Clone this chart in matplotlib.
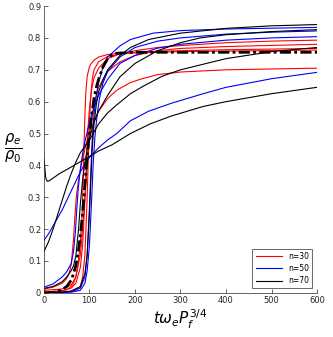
import matplotlib
matplotlib.use("Agg")
import matplotlib.pyplot as plt

# n=30 curves (red)
r1_t = [0, 20, 40, 50, 60, 65, 70, 75, 80, 84, 86, 88, 90, 92, 95, 100, 105, 110, 120, 140, 170, 200, 300, 400, 600]
r1_y = [0.003, 0.004, 0.007, 0.01, 0.02, 0.03, 0.05, 0.09, 0.16, 0.25, 0.35, 0.46, 0.56, 0.63, 0.68, 0.71, 0.722, 0.73, 0.74, 0.748, 0.752, 0.755, 0.76, 0.763, 0.767]
r2_t = [0, 40, 60, 70, 80, 85, 90, 93, 96, 100, 105, 110, 120, 140, 167, 200, 250, 300, 400, 500, 600]
r2_y = [0.003, 0.006, 0.015, 0.03, 0.08, 0.15, 0.29, 0.40, 0.50, 0.58, 0.64, 0.675, 0.705, 0.735, 0.75, 0.76, 0.77, 0.776, 0.785, 0.79, 0.793]
r3_t = [0, 40, 60, 70, 80, 85, 90, 95, 100, 105, 110, 120, 140, 167, 200, 250, 300, 400, 600]
r3_y = [0.008, 0.012, 0.025, 0.05, 0.12, 0.2, 0.30, 0.40, 0.48, 0.54, 0.59, 0.645, 0.695, 0.725, 0.745, 0.76, 0.767, 0.773, 0.78]
r4_t = [0, 20, 40, 50, 55, 60, 65, 68, 71, 75, 80, 86, 95, 101, 120, 140, 160, 190, 211, 250, 300, 400, 600]
r4_y = [0.012, 0.018, 0.03, 0.045, 0.06, 0.09, 0.17, 0.24, 0.30, 0.345, 0.385, 0.43, 0.48, 0.51, 0.57, 0.61, 0.636, 0.66, 0.67, 0.685, 0.693, 0.70, 0.705]
r5_t = [0, 50, 70, 80, 85, 90, 95, 98, 100, 103, 106, 110, 120, 140, 170, 200, 300, 600]
r5_y = [0.0, 0.002, 0.008, 0.02, 0.05, 0.12, 0.30, 0.45, 0.54, 0.62, 0.67, 0.70, 0.725, 0.742, 0.75, 0.753, 0.757, 0.762]

# n=50 curves (blue)
b1_t = [0, 60, 80, 90, 95, 100, 103, 106, 110, 115, 120, 130, 140, 167, 190, 240, 300, 400, 600]
b1_y = [0.0, 0.004, 0.015, 0.05, 0.12, 0.27, 0.38, 0.48, 0.56, 0.62, 0.66, 0.71, 0.74, 0.775, 0.795, 0.815, 0.823, 0.828, 0.833]
b2_t = [0, 60, 80, 90, 95, 100, 105, 108, 112, 117, 122, 130, 140, 167, 200, 250, 300, 400, 500, 600]
b2_y = [0.0, 0.002, 0.008, 0.03, 0.07, 0.15, 0.30, 0.40, 0.49, 0.56, 0.61, 0.66, 0.695, 0.74, 0.77, 0.79, 0.80, 0.812, 0.818, 0.822]
b3_t = [0, 20, 40, 50, 60, 65, 69, 72, 75, 78, 82, 86, 90, 100, 110, 120, 140, 167, 200, 250, 300, 400, 500, 600]
b3_y = [0.018, 0.028, 0.05, 0.066, 0.093, 0.13, 0.19, 0.26, 0.32, 0.365, 0.41, 0.445, 0.475, 0.535, 0.583, 0.62, 0.67, 0.72, 0.745, 0.768, 0.78, 0.793, 0.80, 0.804]
b4_t = [0, 10, 20, 30, 40, 50, 60, 70, 80, 90, 100, 120, 140, 160, 190, 230, 280, 350, 400, 500, 600]
b4_y = [0.165, 0.185, 0.21, 0.235, 0.26, 0.29, 0.32, 0.35, 0.38, 0.405, 0.425, 0.455, 0.48, 0.50, 0.54, 0.57, 0.595, 0.625, 0.645, 0.672, 0.692]

# n=70 curves (black)
k1_t = [0, 40, 60, 80, 90, 95, 100, 103, 106, 110, 115, 120, 130, 140, 167, 190, 230, 300, 400, 500, 600]
k1_y = [0.0, 0.002, 0.006, 0.02, 0.06, 0.12, 0.25, 0.35, 0.45, 0.53, 0.59, 0.63, 0.67, 0.70, 0.745, 0.77, 0.795, 0.815, 0.83, 0.838, 0.842]
k2_t = [0, 20, 40, 50, 60, 65, 70, 76, 80, 85, 90, 95, 100, 110, 120, 140, 167, 200, 250, 300, 343, 400, 500, 600]
k2_y = [0.014, 0.02, 0.035, 0.05, 0.07, 0.085, 0.115, 0.20, 0.28, 0.355, 0.41, 0.45, 0.485, 0.535, 0.57, 0.62, 0.678, 0.72, 0.76, 0.785, 0.80, 0.81, 0.82, 0.826]
k3_t = [0, 10, 20, 30, 40, 50, 60, 70, 80, 90, 100, 120, 140, 160, 190, 220, 260, 300, 400, 500, 600]
k3_y = [0.13, 0.16, 0.20, 0.245, 0.29, 0.335, 0.375, 0.41, 0.44, 0.46, 0.48, 0.53, 0.565, 0.59, 0.625, 0.65, 0.68, 0.70, 0.735, 0.757, 0.77]
k4_t = [0, 2, 4, 7, 12, 20, 35, 60, 90, 120, 150, 190, 233, 280, 350, 400, 500, 600]
k4_y = [0.42, 0.39, 0.36, 0.35, 0.352, 0.36, 0.375, 0.395, 0.42, 0.445, 0.465, 0.50, 0.53, 0.555, 0.585, 0.60, 0.625, 0.645]

# thick dash-dot reference
d_t = [0, 20, 40, 50, 60, 65, 70, 75, 80, 85, 90, 95, 100, 105, 110, 115, 120, 130, 140, 150, 160, 200, 600]
d_y = [0.0, 0.001, 0.01, 0.02, 0.04, 0.06, 0.085, 0.125, 0.18, 0.25, 0.34, 0.43, 0.50, 0.56, 0.61, 0.645, 0.67, 0.71, 0.735, 0.747, 0.752, 0.755, 0.755]

red = [(r1_t, r1_y), (r2_t, r2_y), (r3_t, r3_y), (r4_t, r4_y), (r5_t, r5_y)]
blue = [(b1_t, b1_y), (b2_t, b2_y), (b3_t, b3_y), (b4_t, b4_y)]
black = [(k1_t, k1_y), (k2_t, k2_y), (k3_t, k3_y), (k4_t, k4_y)]

fig = plt.figure(figsize=(3.33, 3.37), dpi=100)
ax = fig.add_axes([0.132, 0.131, 0.82, 0.851])

lw = 0.8
for i, (t, y) in enumerate(red):
    ax.plot(t, y, color='r', lw=lw, label='n=30' if i == 0 else None)
for i, (t, y) in enumerate(blue):
    ax.plot(t, y, color='b', lw=lw, label='n=50' if i == 0 else None)
for i, (t, y) in enumerate(black):
    ax.plot(t, y, color='k', lw=lw, label='n=70' if i == 0 else None)
ax.plot(d_t, d_y, color='k', lw=2, linestyle=(0, (4, 1.2, 1, 1.2)))

ax.set_xlim(0, 600)
ax.set_ylim(0, 0.9)
ax.set_xticks([0, 100, 200, 300, 400, 500, 600])
ax.set_yticks([0, 0.1, 0.2, 0.3, 0.4, 0.5, 0.6, 0.7, 0.8, 0.9])
ax.set_yticklabels(['0', '0.1', '0.2', '0.3', '0.4', '0.5', '0.6', '0.7', '0.8', '0.9'])
ax.tick_params(direction='in', length=3, width=0.5, labelsize=6, colors='#262626', pad=2)
for s in ['top', 'right']:
    ax.spines[s].set_visible(False)
for s in ['left', 'bottom']:
    ax.spines[s].set_color('#262626')
    ax.spines[s].set_linewidth(0.5)

ax.set_xlabel(r'$t\omega_e P_f^{3/4}$', fontsize=11, labelpad=2)
fig.text(0.012, 0.56, r'$\frac{\rho_e}{\rho_0}$', fontsize=15, va='center', ha='left')

leg = ax.legend(loc='lower right', fontsize=5.5, frameon=True, fancybox=False,
                edgecolor='#262626', handlelength=3.5, borderaxespad=0.6,
                labelspacing=0.4, borderpad=0.4)
leg.get_frame().set_linewidth(0.6)

fig.savefig('out.png', dpi=100)
